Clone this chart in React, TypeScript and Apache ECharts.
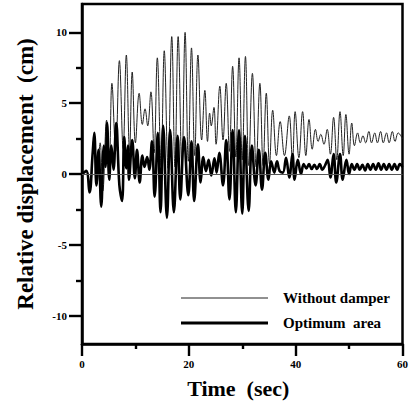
import React, { useEffect, useRef } from "react";
import * as echarts from "echarts";

// Time (sec) of local peaks / troughs
const thinTime = [0, 0.8, 1.5, 2.2, 2.8, 3.4, 3.9, 4.6, 5.1, 5.6, 6.3, 7.0, 7.7, 8.3, 8.9, 9.4, 10.0, 10.7, 11.3, 11.8, 12.3, 12.9, 13.5, 14.1, 14.8, 15.4, 16.1, 16.8, 17.4, 18.0, 18.7, 19.3, 19.9, 20.5, 21.1, 21.7, 22.4, 23.0, 23.5, 23.9, 24.2, 24.7, 25.1, 25.8, 26.4, 27.0, 27.6, 28.2, 28.8, 29.4, 30.0, 30.6, 31.2, 31.9, 32.6, 33.3, 33.9, 34.5, 35.1, 35.7, 36.4, 37.1, 37.9, 38.8, 39.4, 39.9, 40.6, 41.3, 41.9, 42.5, 43.1, 43.7, 44.2, 44.7, 45.3, 45.9, 46.5, 47.1, 47.7, 48.3, 48.9, 49.4, 50.0, 50.5, 51.0, 51.6, 52.1, 52.6, 53.1, 53.7, 54.2, 54.8, 55.3, 55.9, 56.4, 57.0, 57.5, 58.1, 58.6, 59.2, 60];
const thinDisp = [0, 0.3, -1.1, 2.4, -0.7, 2.2, -1.2, 3.8, 0.8, 6.4, 1.6, 8.0, 1.8, 8.4, 1.6, 7.2, 2.2, 5.7, 3.5, 4.6, 3.4, 5.8, 1.5, 8.2, 0.6, 8.7, 0.4, 9.7, 0.5, 9.7, 0.5, 10.0, 0.9, 8.9, 1.3, 8.4, 2.4, 5.9, 2.3, 4.3, 3.4, 4.7, 2.1, 6.2, 2.4, 6.4, 1.6, 7.6, 1.2, 8.2, 1.0, 8.3, 0.6, 7.1, 0.5, 6.4, 0.6, 5.7, 0.7, 4.5, 1.3, 3.7, 1.3, 4.1, 1.0, 4.4, 1.15, 4.4, 1.3, 3.85, 1.75, 3.15, 2.3, 2.8, 2.1, 3.15, 1.4, 4.0, 1.0, 4.4, 1.3, 4.2, 1.4, 3.6, 2.0, 2.9, 2.2, 2.7, 2.2, 3.0, 2.2, 2.9, 2.2, 3.0, 2.2, 2.9, 2.2, 3.0, 2.3, 2.9, 2.5];

const optTime = [0, 0.8, 1.4, 2.0, 2.3, 2.7, 3.1, 3.6, 4.1, 4.4, 4.7, 5.1, 5.5, 5.9, 6.4, 7.0, 7.5, 7.9, 8.3, 8.6, 8.8, 9.4, 9.9, 10.3, 10.8, 11.3, 11.7, 12.2, 12.6, 13.1, 13.6, 14.2, 14.7, 15.2, 15.9, 16.5, 17.2, 17.9, 18.4, 19.1, 19.9, 20.5, 21.0, 21.7, 22.2, 22.7, 23.2, 23.7, 24.2, 24.8, 25.2, 25.7, 26.4, 27.0, 27.6, 28.2, 28.8, 29.4, 30.0, 30.5, 31.2, 31.8, 32.5, 33.1, 33.7, 34.3, 34.9, 35.4, 36.0, 36.5, 37.0, 37.6, 38.2, 38.8, 39.4, 39.8, 40.4, 41.0, 41.5, 42.0, 42.5, 43.0, 43.5, 44.0, 44.5, 45.0, 45.5, 46.0, 46.5, 47.1, 47.6, 48.3, 48.8, 49.5, 50.0, 50.5, 51.0, 51.5, 52.0, 52.5, 53.0, 53.5, 54.0, 54.5, 55.0, 55.5, 56.0, 56.5, 57.0, 57.5, 58.0, 58.5, 59.0, 59.5, 60];
const optDisp = [0, 0.2, -1.3, 1.5, 2.9, -0.8, 1.7, -2.3, 2.0, 0.5, 3.6, -0.4, 2.0, 0.3, 3.6, -0.8, -1.9, 2.6, 0.4, 2.0, -0.4, 2.4, -0.3, 1.7, -0.6, 1.3, 0.5, 1.2, 0.3, 2.3, -1.6, 2.9, -2.7, 3.4, -3.1, 3.1, -2.7, 2.7, -1.8, 2.6, -1.5, 2.3, -1.9, 2.1, -0.6, 1.2, 0.2, 1.0, -0.1, 1.1, 0.1, 1.5, -0.8, 2.4, -1.8, 3.1, -2.7, 3.1, -2.8, 2.7, -2.6, 2.0, -0.8, 1.7, -1.1, 1.5, -0.4, 0.9, 0.1, 0.9, 0.2, 0.1, 1.15, -0.25, 1.4, -0.4, 1.0, 0.0, 0.7, 0.4, 0.7, 0.35, 0.65, 0.35, 0.7, 0.3, 0.6, 1.0, -0.25, 1.4, -0.6, 1.4, -0.4, 1.0, 0.0, 0.7, 0.3, 0.7, 0.3, 0.65, 0.25, 0.7, 0.3, 0.7, 0.3, 0.75, 0.3, 0.7, 0.3, 0.7, 0.3, 0.7, 0.3, 0.7, 0.5];

const yMajorTicks = [-10, -5, 0, 5, 10];
const yMinorTicks = [-7.5, -2.5, 2.5, 7.5];
const seriesNames = ["Without damper", "Optimum  area"];

const FONT = "Liberation Serif";

export default function App() {
  const ref = useRef<HTMLDivElement>(null);
  useEffect(() => {
    if (!ref.current) return;
    const chart = echarts.init(ref.current, null, { renderer: "svg" });
    const legendText = {
      fontFamily: FONT, fontWeight: "bold", fontSize: 15, fill: "#000",
      textVerticalAlign: "middle", verticalAlign: "middle",
    };
    chart.setOption({
      animation: false,
      backgroundColor: "#fff",
      grid: {
        left: 82, right: 5, top: 4, bottom: 63,
        show: true, borderColor: "#000", borderWidth: 2.5, backgroundColor: "transparent",
      },
      graphic: [
        { type: "line", shape: { x1: 181, y1: 298, x2: 268, y2: 298 }, style: { stroke: "#222", lineWidth: 1 } },
        { type: "text", x: 283, y: 298, style: { ...legendText, text: seriesNames[0] } },
        { type: "line", shape: { x1: 181, y1: 323, x2: 268, y2: 323 }, style: { stroke: "#000", lineWidth: 2.8 } },
        { type: "text", x: 283, y: 323, style: { ...legendText, text: seriesNames[1] } },
      ],
      xAxis: {
        type: "value",
        min: 0, max: 60, interval: 20,
        axisLine: { show: true, onZero: false, lineStyle: { color: "#000", width: 2.5 } },
        axisTick: { show: true, inside: false, length: 12, lineStyle: { width: 2.4, color: "#000" } },
        minorTick: { show: true, splitNumber: 2, length: 5, lineStyle: { width: 2.4, color: "#000" } },
        splitLine: { show: false },
        axisLabel: { fontFamily: FONT, fontWeight: "bold", fontSize: 11, color: "#000", margin: 14 },
        name: "Time  (sec)",
        nameLocation: "middle",
        nameGap: 33,
        nameTextStyle: { fontFamily: FONT, fontWeight: "bold", fontSize: 22, color: "#000", padding: [0, 8, 0, 0] },
      },
      yAxis: [
        {
          type: "value",
          min: -12, max: 12,
          axisLine: { show: true, onZero: false, lineStyle: { color: "#000", width: 2.5 } },
          axisTick: { show: true, inside: false, length: 13, customValues: yMajorTicks, lineStyle: { width: 2.4, color: "#000" } },
          axisLabel: { customValues: yMajorTicks, fontFamily: FONT, fontWeight: "bold", fontSize: 11, color: "#000", margin: 15 },
          splitLine: { show: false },
          name: "Relative displacement  (cm)",
          nameLocation: "middle",
          nameGap: 45,
          nameTextStyle: { fontFamily: FONT, fontWeight: "bold", fontSize: 23, color: "#000" },
        },
        {
          type: "value",
          min: -12, max: 12,
          position: "left",
          axisLine: { show: false, onZero: false },
          axisTick: { show: true, inside: false, length: 6, customValues: yMinorTicks, lineStyle: { width: 2.4, color: "#000" } },
          axisLabel: { show: false },
          splitLine: { show: false },
        },
      ],
      series: [
        {
          name: seriesNames[0],
          type: "line",
          data: thinTime.map((t, i) => [t, thinDisp[i]]),
          symbol: "none",
          smooth: 0.4,
          lineStyle: { color: "#222", width: 1 },
          z: 2,
          markLine: {
            silent: true,
            symbol: "none",
            label: { show: false },
            lineStyle: { color: "#555", width: 1, type: "solid" },
            data: [{ yAxis: 0 }],
          },
        },
        {
          name: seriesNames[1],
          type: "line",
          data: optTime.map((t, i) => [t, optDisp[i]]),
          symbol: "none",
          smooth: 0.4,
          lineStyle: { color: "#000", width: 2.6 },
          z: 3,
        },
      ],
    });
    return () => chart.dispose();
  }, []);
  return <div ref={ref} style={{ position: "fixed", left: 0, top: 0, width: 411, height: 407 }} />;
}
